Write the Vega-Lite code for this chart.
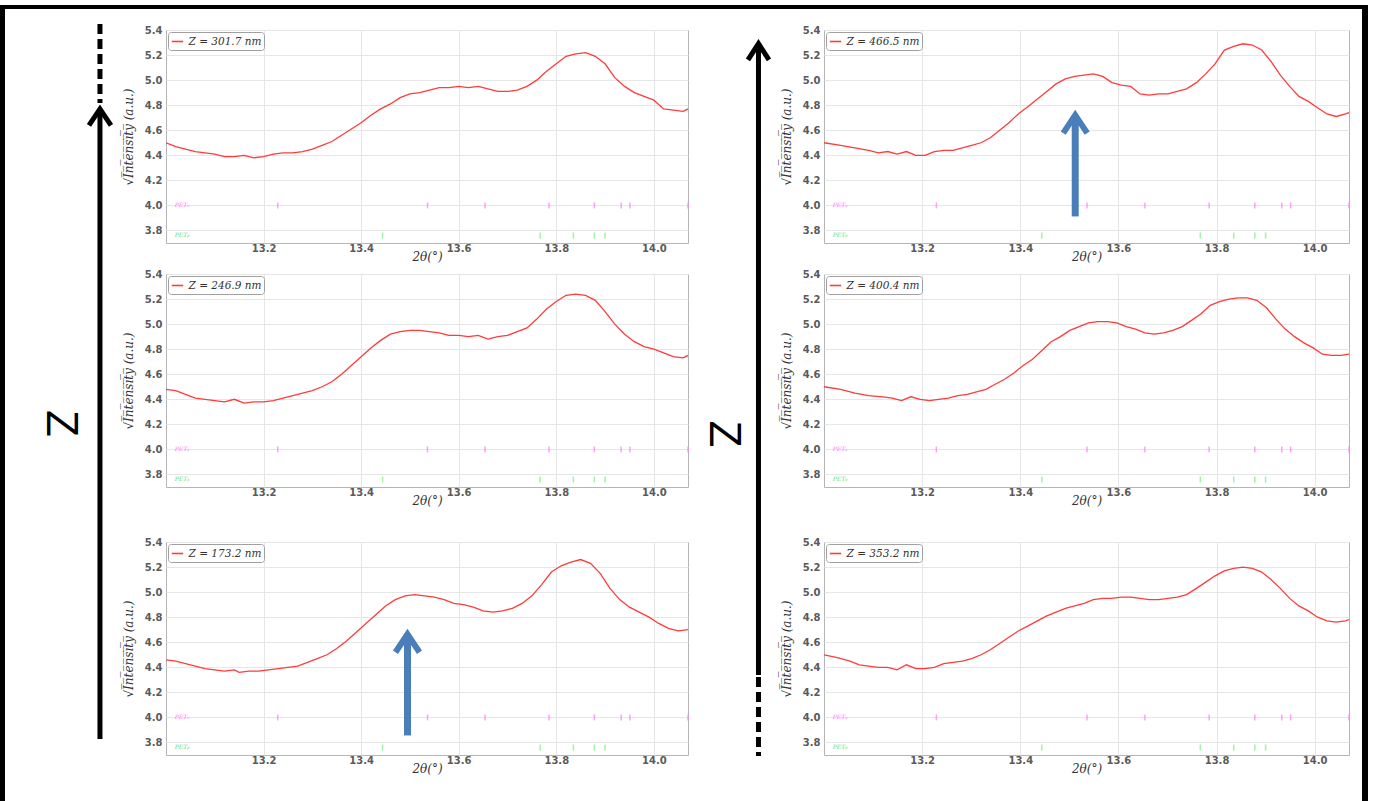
{
"$schema": "https://vega.github.io/schema/vega-lite/v6.json",
"padding": {"left": 0, "top": 5, "right": 0, "bottom": 0},
"spacing": 0,
"bounds": "full",
"resolve": {"scale": {"x": "independent", "y": "independent", "color": "independent"}, "axis": {"x": "independent", "y": "independent"}, "legend": {"color": "independent"}},
"datasets": {
"tl": [{"t":13.00,"v":4.50},{"t":13.02,"v":4.47},{"t":13.04,"v":4.45},{"t":13.06,"v":4.43},{"t":13.08,"v":4.42},{"t":13.10,"v":4.41},{"t":13.12,"v":4.39},{"t":13.14,"v":4.39},{"t":13.16,"v":4.40},{"t":13.18,"v":4.38},{"t":13.20,"v":4.39},{"t":13.22,"v":4.41},{"t":13.24,"v":4.42},{"t":13.26,"v":4.42},{"t":13.28,"v":4.43},{"t":13.30,"v":4.45},{"t":13.32,"v":4.48},{"t":13.34,"v":4.51},{"t":13.36,"v":4.56},{"t":13.38,"v":4.61},{"t":13.40,"v":4.66},{"t":13.42,"v":4.72},{"t":13.44,"v":4.77},{"t":13.46,"v":4.81},{"t":13.48,"v":4.86},{"t":13.50,"v":4.89},{"t":13.52,"v":4.90},{"t":13.54,"v":4.92},{"t":13.56,"v":4.94},{"t":13.58,"v":4.94},{"t":13.60,"v":4.95},{"t":13.62,"v":4.94},{"t":13.64,"v":4.95},{"t":13.66,"v":4.93},{"t":13.68,"v":4.91},{"t":13.70,"v":4.91},{"t":13.72,"v":4.92},{"t":13.74,"v":4.95},{"t":13.76,"v":5.00},{"t":13.78,"v":5.07},{"t":13.80,"v":5.13},{"t":13.82,"v":5.19},{"t":13.84,"v":5.21},{"t":13.86,"v":5.22},{"t":13.88,"v":5.19},{"t":13.90,"v":5.13},{"t":13.92,"v":5.02},{"t":13.94,"v":4.95},{"t":13.96,"v":4.90},{"t":13.98,"v":4.87},{"t":14.00,"v":4.84},{"t":14.02,"v":4.77},{"t":14.04,"v":4.76},{"t":14.06,"v":4.75},{"t":14.07,"v":4.77}],
"ml": [{"t":13.00,"v":4.48},{"t":13.02,"v":4.47},{"t":13.04,"v":4.44},{"t":13.06,"v":4.41},{"t":13.08,"v":4.40},{"t":13.10,"v":4.39},{"t":13.12,"v":4.38},{"t":13.14,"v":4.40},{"t":13.16,"v":4.37},{"t":13.18,"v":4.38},{"t":13.20,"v":4.38},{"t":13.22,"v":4.39},{"t":13.24,"v":4.41},{"t":13.26,"v":4.43},{"t":13.28,"v":4.45},{"t":13.30,"v":4.47},{"t":13.32,"v":4.50},{"t":13.34,"v":4.54},{"t":13.36,"v":4.60},{"t":13.38,"v":4.67},{"t":13.40,"v":4.74},{"t":13.42,"v":4.81},{"t":13.44,"v":4.87},{"t":13.46,"v":4.92},{"t":13.48,"v":4.94},{"t":13.50,"v":4.95},{"t":13.52,"v":4.95},{"t":13.54,"v":4.94},{"t":13.56,"v":4.93},{"t":13.58,"v":4.91},{"t":13.60,"v":4.91},{"t":13.62,"v":4.90},{"t":13.64,"v":4.91},{"t":13.66,"v":4.88},{"t":13.68,"v":4.90},{"t":13.70,"v":4.91},{"t":13.72,"v":4.94},{"t":13.74,"v":4.97},{"t":13.76,"v":5.04},{"t":13.78,"v":5.12},{"t":13.80,"v":5.18},{"t":13.82,"v":5.23},{"t":13.84,"v":5.24},{"t":13.86,"v":5.23},{"t":13.88,"v":5.19},{"t":13.90,"v":5.10},{"t":13.92,"v":5.00},{"t":13.94,"v":4.92},{"t":13.96,"v":4.86},{"t":13.98,"v":4.82},{"t":14.00,"v":4.80},{"t":14.02,"v":4.77},{"t":14.04,"v":4.74},{"t":14.06,"v":4.73},{"t":14.07,"v":4.75}],
"bl": [{"t":13.00,"v":4.46},{"t":13.02,"v":4.45},{"t":13.04,"v":4.43},{"t":13.06,"v":4.41},{"t":13.08,"v":4.39},{"t":13.10,"v":4.38},{"t":13.12,"v":4.37},{"t":13.14,"v":4.38},{"t":13.15,"v":4.36},{"t":13.17,"v":4.37},{"t":13.19,"v":4.37},{"t":13.21,"v":4.38},{"t":13.23,"v":4.39},{"t":13.25,"v":4.40},{"t":13.27,"v":4.41},{"t":13.29,"v":4.44},{"t":13.31,"v":4.47},{"t":13.33,"v":4.50},{"t":13.35,"v":4.55},{"t":13.37,"v":4.61},{"t":13.39,"v":4.68},{"t":13.41,"v":4.75},{"t":13.43,"v":4.82},{"t":13.45,"v":4.89},{"t":13.47,"v":4.94},{"t":13.49,"v":4.97},{"t":13.51,"v":4.98},{"t":13.53,"v":4.97},{"t":13.55,"v":4.96},{"t":13.57,"v":4.94},{"t":13.59,"v":4.91},{"t":13.61,"v":4.90},{"t":13.63,"v":4.88},{"t":13.65,"v":4.85},{"t":13.67,"v":4.84},{"t":13.69,"v":4.85},{"t":13.71,"v":4.87},{"t":13.73,"v":4.91},{"t":13.75,"v":4.97},{"t":13.77,"v":5.06},{"t":13.79,"v":5.16},{"t":13.81,"v":5.21},{"t":13.83,"v":5.24},{"t":13.85,"v":5.26},{"t":13.87,"v":5.23},{"t":13.89,"v":5.15},{"t":13.91,"v":5.03},{"t":13.93,"v":4.94},{"t":13.95,"v":4.88},{"t":13.97,"v":4.84},{"t":13.99,"v":4.80},{"t":14.01,"v":4.75},{"t":14.03,"v":4.71},{"t":14.05,"v":4.69},{"t":14.07,"v":4.70}],
"tr": [{"t":13.00,"v":4.50},{"t":13.034,"v":4.48},{"t":13.063,"v":4.46},{"t":13.091,"v":4.44},{"t":13.111,"v":4.42},{"t":13.130,"v":4.43},{"t":13.149,"v":4.41},{"t":13.168,"v":4.43},{"t":13.187,"v":4.40},{"t":13.206,"v":4.40},{"t":13.225,"v":4.43},{"t":13.244,"v":4.44},{"t":13.263,"v":4.44},{"t":13.282,"v":4.46},{"t":13.301,"v":4.48},{"t":13.320,"v":4.50},{"t":13.339,"v":4.54},{"t":13.358,"v":4.60},{"t":13.377,"v":4.66},{"t":13.396,"v":4.73},{"t":13.416,"v":4.79},{"t":13.435,"v":4.85},{"t":13.454,"v":4.91},{"t":13.473,"v":4.97},{"t":13.492,"v":5.01},{"t":13.511,"v":5.03},{"t":13.530,"v":5.04},{"t":13.549,"v":5.05},{"t":13.568,"v":5.03},{"t":13.587,"v":4.98},{"t":13.606,"v":4.96},{"t":13.625,"v":4.95},{"t":13.644,"v":4.89},{"t":13.663,"v":4.88},{"t":13.682,"v":4.89},{"t":13.701,"v":4.89},{"t":13.720,"v":4.91},{"t":13.739,"v":4.93},{"t":13.759,"v":4.98},{"t":13.778,"v":5.05},{"t":13.797,"v":5.13},{"t":13.816,"v":5.24},{"t":13.835,"v":5.27},{"t":13.854,"v":5.29},{"t":13.873,"v":5.28},{"t":13.892,"v":5.24},{"t":13.911,"v":5.15},{"t":13.930,"v":5.04},{"t":13.949,"v":4.95},{"t":13.968,"v":4.87},{"t":13.987,"v":4.83},{"t":14.006,"v":4.78},{"t":14.025,"v":4.73},{"t":14.044,"v":4.71},{"t":14.063,"v":4.73},{"t":14.07,"v":4.74}],
"mr": [{"t":13.00,"v":4.50},{"t":13.034,"v":4.48},{"t":13.063,"v":4.45},{"t":13.091,"v":4.43},{"t":13.120,"v":4.42},{"t":13.139,"v":4.41},{"t":13.158,"v":4.39},{"t":13.177,"v":4.42},{"t":13.196,"v":4.40},{"t":13.215,"v":4.39},{"t":13.234,"v":4.40},{"t":13.253,"v":4.41},{"t":13.273,"v":4.43},{"t":13.292,"v":4.44},{"t":13.311,"v":4.46},{"t":13.330,"v":4.48},{"t":13.349,"v":4.52},{"t":13.368,"v":4.56},{"t":13.387,"v":4.61},{"t":13.406,"v":4.67},{"t":13.425,"v":4.72},{"t":13.444,"v":4.79},{"t":13.463,"v":4.86},{"t":13.482,"v":4.90},{"t":13.501,"v":4.95},{"t":13.520,"v":4.98},{"t":13.539,"v":5.01},{"t":13.558,"v":5.02},{"t":13.578,"v":5.02},{"t":13.597,"v":5.01},{"t":13.616,"v":4.98},{"t":13.635,"v":4.96},{"t":13.654,"v":4.93},{"t":13.673,"v":4.92},{"t":13.692,"v":4.93},{"t":13.711,"v":4.95},{"t":13.730,"v":4.98},{"t":13.749,"v":5.03},{"t":13.768,"v":5.08},{"t":13.787,"v":5.15},{"t":13.806,"v":5.18},{"t":13.825,"v":5.20},{"t":13.844,"v":5.21},{"t":13.863,"v":5.21},{"t":13.882,"v":5.19},{"t":13.902,"v":5.13},{"t":13.921,"v":5.04},{"t":13.940,"v":4.96},{"t":13.959,"v":4.90},{"t":13.978,"v":4.85},{"t":13.997,"v":4.81},{"t":14.016,"v":4.76},{"t":14.035,"v":4.75},{"t":14.054,"v":4.75},{"t":14.07,"v":4.76}],
"br": [{"t":13.00,"v":4.50},{"t":13.025,"v":4.48},{"t":13.053,"v":4.45},{"t":13.072,"v":4.42},{"t":13.091,"v":4.41},{"t":13.111,"v":4.40},{"t":13.130,"v":4.40},{"t":13.149,"v":4.38},{"t":13.168,"v":4.42},{"t":13.187,"v":4.39},{"t":13.206,"v":4.39},{"t":13.225,"v":4.40},{"t":13.244,"v":4.43},{"t":13.263,"v":4.44},{"t":13.282,"v":4.45},{"t":13.301,"v":4.47},{"t":13.320,"v":4.50},{"t":13.339,"v":4.54},{"t":13.358,"v":4.59},{"t":13.377,"v":4.64},{"t":13.396,"v":4.69},{"t":13.416,"v":4.73},{"t":13.435,"v":4.77},{"t":13.454,"v":4.81},{"t":13.473,"v":4.84},{"t":13.492,"v":4.87},{"t":13.511,"v":4.89},{"t":13.530,"v":4.91},{"t":13.549,"v":4.94},{"t":13.568,"v":4.95},{"t":13.587,"v":4.95},{"t":13.606,"v":4.96},{"t":13.625,"v":4.96},{"t":13.644,"v":4.95},{"t":13.663,"v":4.94},{"t":13.682,"v":4.94},{"t":13.701,"v":4.95},{"t":13.720,"v":4.96},{"t":13.739,"v":4.98},{"t":13.759,"v":5.03},{"t":13.778,"v":5.08},{"t":13.797,"v":5.13},{"t":13.816,"v":5.17},{"t":13.835,"v":5.19},{"t":13.854,"v":5.20},{"t":13.873,"v":5.19},{"t":13.892,"v":5.16},{"t":13.911,"v":5.10},{"t":13.930,"v":5.03},{"t":13.949,"v":4.95},{"t":13.968,"v":4.89},{"t":13.987,"v":4.85},{"t":14.006,"v":4.80},{"t":14.025,"v":4.77},{"t":14.044,"v":4.76},{"t":14.063,"v":4.77},{"t":14.07,"v":4.78}],
"pa": [{"t":13.229},{"t":13.536},{"t":13.654},{"t":13.785},{"t":13.878},{"t":13.933},{"t":13.951},{"t":14.07}],
"pb": [{"t":13.444},{"t":13.767},{"t":13.835},{"t":13.878},{"t":13.900}]
},
"hconcat": [
 {"width": 5, "height": 796, "data": {"values": [{}]}, "mark": {"type": "point", "size": 0, "opacity": 0}, "view": {"fill": "black", "stroke": null}},
 {"vconcat": [
   {"width": 1357, "height": 4, "data": {"values": [{}]}, "mark": {"type": "point", "size": 0, "opacity": 0}, "view": {"fill": "black", "stroke": null}},
   {"hconcat": [
     {"width": 114, "height": 736, "view": {"stroke": null}, "data": {"values": [{}]},
      "layer": [
        {"mark": {"type": "rule", "strokeWidth": 5, "color": "black", "strokeCap": "butt"}, "encoding": {"x": {"datum": 0.833, "type": "quantitative", "scale": {"domain": [0, 1]}, "axis": null}, "y": {"datum": 0.0367, "type": "quantitative", "scale": {"domain": [0, 1]}, "axis": null}, "y2": {"datum": 0.8927}}},
        {"mark": {"type": "rule", "strokeWidth": 5, "color": "black", "strokeCap": "butt", "strokeDash": [10, 5]}, "encoding": {"x": {"datum": 0.833}, "y": {"datum": 1.0082}, "y2": {"datum": 0.9008}}},
        {"mark": {"type": "point", "shape": "M-1,1.5L0,0L1,1.5", "size": 484, "filled": false, "stroke": "black", "strokeWidth": 5, "strokeJoin": "miter", "strokeCap": "butt", "opacity": 1}, "encoding": {"x": {"datum": 0.833}, "y": {"datum": 0.8927}}},
        {"mark": {"type": "text", "text": "Z", "font": "Liberation Sans", "fontSize": 44, "angle": 90, "align": "center", "baseline": "middle", "color": "black"}, "encoding": {"x": {"datum": 0.482}, "y": {"datum": 0.4654}}}
      ]},
     {"vconcat": [
       {"vconcat": [
         {"width": 522, "height": 213, "layer": [
           {"data": {"name": "tl"}, "mark": {"type": "line", "strokeWidth": 1.3, "clip": true}, "encoding": {
             "x": {"field": "t", "type": "quantitative", "scale": {"domain": [13.0, 14.07], "nice": false, "zero": false}, "axis": {"values": [13.2, 13.4, 13.6, 13.8, 14.0], "format": ".1f", "title": "2θ(°)"}},
             "y": {"field": "v", "type": "quantitative", "scale": {"domain": [3.7, 5.4], "nice": false, "zero": false}, "axis": {"values": [3.8, 4.0, 4.2, 4.4, 4.6, 4.8, 5.0, 5.2, 5.4], "tickCount": 12, "format": ".1f", "title": "√I̅n̅t̅e̅n̅s̅i̅t̅y̅ (a.u.)"}},
             "color": {"datum": "Z = 301.7 nm", "type": "nominal", "scale": {"range": ["#ff3b3b"]}, "legend": {"title": null}}}},
           {"data": {"name": "pa"}, "mark": {"type": "tick", "orient": "vertical", "size": 6, "thickness": 1.5, "color": "#ff77ff"}, "encoding": {"x": {"field": "t", "type": "quantitative"}, "y": {"datum": 4.0}}},
           {"data": {"name": "pb"}, "mark": {"type": "tick", "orient": "vertical", "size": 6, "thickness": 1.5, "color": "#77ee77"}, "encoding": {"x": {"field": "t", "type": "quantitative"}, "y": {"datum": 3.76}}},
           {"data": {"values": [{}]}, "mark": {"type": "text", "text": "PETₐ", "font": "DejaVu Serif", "fontStyle": "italic", "fontSize": 6, "color": "#ff77ff", "align": "left", "baseline": "middle"}, "encoding": {"x": {"datum": 13.018}, "y": {"datum": 4.0}}},
           {"data": {"values": [{}]}, "mark": {"type": "text", "text": "PETᵦ", "font": "DejaVu Serif", "fontStyle": "italic", "fontSize": 6, "color": "#66dd66", "align": "left", "baseline": "middle"}, "encoding": {"x": {"datum": 13.018}, "y": {"datum": 3.76}}}
         ]},
         {"width": 522, "height": 213, "layer": [
           {"data": {"name": "ml"}, "mark": {"type": "line", "strokeWidth": 1.3, "clip": true}, "encoding": {
             "x": {"field": "t", "type": "quantitative", "scale": {"domain": [13.0, 14.07], "nice": false, "zero": false}, "axis": {"values": [13.2, 13.4, 13.6, 13.8, 14.0], "format": ".1f", "title": "2θ(°)"}},
             "y": {"field": "v", "type": "quantitative", "scale": {"domain": [3.7, 5.4], "nice": false, "zero": false}, "axis": {"values": [3.8, 4.0, 4.2, 4.4, 4.6, 4.8, 5.0, 5.2, 5.4], "tickCount": 12, "format": ".1f", "title": "√I̅n̅t̅e̅n̅s̅i̅t̅y̅ (a.u.)"}},
             "color": {"datum": "Z = 246.9 nm", "type": "nominal", "scale": {"range": ["#ff3b3b"]}, "legend": {"title": null}}}},
           {"data": {"name": "pa"}, "mark": {"type": "tick", "orient": "vertical", "size": 6, "thickness": 1.5, "color": "#ff77ff"}, "encoding": {"x": {"field": "t", "type": "quantitative"}, "y": {"datum": 4.0}}},
           {"data": {"name": "pb"}, "mark": {"type": "tick", "orient": "vertical", "size": 6, "thickness": 1.5, "color": "#77ee77"}, "encoding": {"x": {"field": "t", "type": "quantitative"}, "y": {"datum": 3.76}}},
           {"data": {"values": [{}]}, "mark": {"type": "text", "text": "PETₐ", "font": "DejaVu Serif", "fontStyle": "italic", "fontSize": 6, "color": "#ff77ff", "align": "left", "baseline": "middle"}, "encoding": {"x": {"datum": 13.018}, "y": {"datum": 4.0}}},
           {"data": {"values": [{}]}, "mark": {"type": "text", "text": "PETᵦ", "font": "DejaVu Serif", "fontStyle": "italic", "fontSize": 6, "color": "#66dd66", "align": "left", "baseline": "middle"}, "encoding": {"x": {"datum": 13.018}, "y": {"datum": 3.76}}}
         ]}
       ], "spacing": 5, "resolve": {"scale": {"x": "independent", "y": "independent", "color": "independent"}, "axis": {"x": "independent", "y": "independent"}, "legend": {"color": "independent"}}},
       {"width": 522, "height": 213, "layer": [
         {"data": {"name": "bl"}, "mark": {"type": "line", "strokeWidth": 1.3, "clip": true}, "encoding": {
           "x": {"field": "t", "type": "quantitative", "scale": {"domain": [13.0, 14.07], "nice": false, "zero": false}, "axis": {"values": [13.2, 13.4, 13.6, 13.8, 14.0], "format": ".1f", "title": "2θ(°)"}},
           "y": {"field": "v", "type": "quantitative", "scale": {"domain": [3.7, 5.4], "nice": false, "zero": false}, "axis": {"values": [3.8, 4.0, 4.2, 4.4, 4.6, 4.8, 5.0, 5.2, 5.4], "tickCount": 12, "format": ".1f", "title": "√I̅n̅t̅e̅n̅s̅i̅t̅y̅ (a.u.)"}},
           "color": {"datum": "Z = 173.2 nm", "type": "nominal", "scale": {"range": ["#ff3b3b"]}, "legend": {"title": null}}}},
         {"data": {"name": "pa"}, "mark": {"type": "tick", "orient": "vertical", "size": 6, "thickness": 1.5, "color": "#ff77ff"}, "encoding": {"x": {"field": "t", "type": "quantitative"}, "y": {"datum": 4.0}}},
         {"data": {"name": "pb"}, "mark": {"type": "tick", "orient": "vertical", "size": 6, "thickness": 1.5, "color": "#77ee77"}, "encoding": {"x": {"field": "t", "type": "quantitative"}, "y": {"datum": 3.76}}},
         {"data": {"values": [{}]}, "mark": {"type": "text", "text": "PETₐ", "font": "DejaVu Serif", "fontStyle": "italic", "fontSize": 6, "color": "#ff77ff", "align": "left", "baseline": "middle"}, "encoding": {"x": {"datum": 13.018}, "y": {"datum": 4.0}}},
         {"data": {"values": [{}]}, "mark": {"type": "text", "text": "PETᵦ", "font": "DejaVu Serif", "fontStyle": "italic", "fontSize": 6, "color": "#66dd66", "align": "left", "baseline": "middle"}, "encoding": {"x": {"datum": 13.018}, "y": {"datum": 3.76}}},
         {"data": {"values": [{}]}, "mark": {"type": "rule", "strokeWidth": 7, "color": "#4a7ebb", "strokeCap": "butt"}, "encoding": {"x": {"datum": 13.495}, "y": {"datum": 3.856}, "y2": {"datum": 4.664}}},
         {"data": {"values": [{}]}, "mark": {"type": "point", "shape": "M-1,1.5L0,0L1,1.5", "size": 576, "filled": false, "stroke": "#4a7ebb", "strokeWidth": 6, "strokeJoin": "miter", "strokeCap": "butt", "opacity": 1}, "encoding": {"x": {"datum": 13.495}, "y": {"datum": 4.664}}}
       ]}
     ], "spacing": 29, "resolve": {"scale": {"x": "independent", "y": "independent", "color": "independent"}, "axis": {"x": "independent", "y": "independent"}, "legend": {"color": "independent"}}},
     {"width": 80, "height": 736, "view": {"stroke": null}, "data": {"values": [{}]},
      "layer": [
        {"mark": {"type": "rule", "strokeWidth": 5, "color": "black", "strokeCap": "butt"}, "encoding": {"x": {"datum": 0.856, "type": "quantitative", "scale": {"domain": [0, 1]}, "axis": null}, "y": {"datum": 0.1236, "type": "quantitative", "scale": {"domain": [0, 1]}, "axis": null}, "y2": {"datum": 0.9815}}},
        {"mark": {"type": "rule", "strokeWidth": 5, "color": "black", "strokeCap": "butt", "strokeDash": [10, 5]}, "encoding": {"x": {"datum": 0.856}, "y": {"datum": 0.1209}, "y2": {"datum": 0.0136}}},
        {"mark": {"type": "point", "shape": "M-1,1.55L0,0L1,1.55", "size": 441, "filled": false, "stroke": "black", "strokeWidth": 5, "strokeJoin": "miter", "strokeCap": "butt", "opacity": 1}, "encoding": {"x": {"datum": 0.856}, "y": {"datum": 0.9815}}},
        {"mark": {"type": "text", "text": "Z", "font": "Liberation Sans", "fontSize": 44, "angle": 90, "align": "center", "baseline": "middle", "color": "black"}, "encoding": {"x": {"datum": 0.41}, "y": {"datum": 0.4511}}}
      ]},
     {"vconcat": [
       {"vconcat": [
         {"width": 525, "height": 213, "layer": [
           {"data": {"name": "tr"}, "mark": {"type": "line", "strokeWidth": 1.3, "clip": true}, "encoding": {
             "x": {"field": "t", "type": "quantitative", "scale": {"domain": [13.0, 14.07], "nice": false, "zero": false}, "axis": {"values": [13.2, 13.4, 13.6, 13.8, 14.0], "format": ".1f", "title": "2θ(°)"}},
             "y": {"field": "v", "type": "quantitative", "scale": {"domain": [3.7, 5.4], "nice": false, "zero": false}, "axis": {"values": [3.8, 4.0, 4.2, 4.4, 4.6, 4.8, 5.0, 5.2, 5.4], "tickCount": 12, "format": ".1f", "title": "√I̅n̅t̅e̅n̅s̅i̅t̅y̅ (a.u.)"}},
             "color": {"datum": "Z = 466.5 nm", "type": "nominal", "scale": {"range": ["#ff3b3b"]}, "legend": {"title": null}}}},
           {"data": {"name": "pa"}, "mark": {"type": "tick", "orient": "vertical", "size": 6, "thickness": 1.5, "color": "#ff77ff"}, "encoding": {"x": {"field": "t", "type": "quantitative"}, "y": {"datum": 4.0}}},
           {"data": {"name": "pb"}, "mark": {"type": "tick", "orient": "vertical", "size": 6, "thickness": 1.5, "color": "#77ee77"}, "encoding": {"x": {"field": "t", "type": "quantitative"}, "y": {"datum": 3.76}}},
           {"data": {"values": [{}]}, "mark": {"type": "text", "text": "PETₐ", "font": "DejaVu Serif", "fontStyle": "italic", "fontSize": 6, "color": "#ff77ff", "align": "left", "baseline": "middle"}, "encoding": {"x": {"datum": 13.018}, "y": {"datum": 4.0}}},
           {"data": {"values": [{}]}, "mark": {"type": "text", "text": "PETᵦ", "font": "DejaVu Serif", "fontStyle": "italic", "fontSize": 6, "color": "#66dd66", "align": "left", "baseline": "middle"}, "encoding": {"x": {"datum": 13.018}, "y": {"datum": 3.76}}},
           {"data": {"values": [{}]}, "mark": {"type": "rule", "strokeWidth": 7, "color": "#4a7ebb", "strokeCap": "butt"}, "encoding": {"x": {"datum": 13.512}, "y": {"datum": 3.912}, "y2": {"datum": 4.72}}},
           {"data": {"values": [{}]}, "mark": {"type": "point", "shape": "M-1,1.5L0,0L1,1.5", "size": 576, "filled": false, "stroke": "#4a7ebb", "strokeWidth": 6, "strokeJoin": "miter", "strokeCap": "butt", "opacity": 1}, "encoding": {"x": {"datum": 13.512}, "y": {"datum": 4.72}}}
         ]},
         {"width": 525, "height": 213, "layer": [
           {"data": {"name": "mr"}, "mark": {"type": "line", "strokeWidth": 1.3, "clip": true}, "encoding": {
             "x": {"field": "t", "type": "quantitative", "scale": {"domain": [13.0, 14.07], "nice": false, "zero": false}, "axis": {"values": [13.2, 13.4, 13.6, 13.8, 14.0], "format": ".1f", "title": "2θ(°)"}},
             "y": {"field": "v", "type": "quantitative", "scale": {"domain": [3.7, 5.4], "nice": false, "zero": false}, "axis": {"values": [3.8, 4.0, 4.2, 4.4, 4.6, 4.8, 5.0, 5.2, 5.4], "tickCount": 12, "format": ".1f", "title": "√I̅n̅t̅e̅n̅s̅i̅t̅y̅ (a.u.)"}},
             "color": {"datum": "Z = 400.4 nm", "type": "nominal", "scale": {"range": ["#ff3b3b"]}, "legend": {"title": null}}}},
           {"data": {"name": "pa"}, "mark": {"type": "tick", "orient": "vertical", "size": 6, "thickness": 1.5, "color": "#ff77ff"}, "encoding": {"x": {"field": "t", "type": "quantitative"}, "y": {"datum": 4.0}}},
           {"data": {"name": "pb"}, "mark": {"type": "tick", "orient": "vertical", "size": 6, "thickness": 1.5, "color": "#77ee77"}, "encoding": {"x": {"field": "t", "type": "quantitative"}, "y": {"datum": 3.76}}},
           {"data": {"values": [{}]}, "mark": {"type": "text", "text": "PETₐ", "font": "DejaVu Serif", "fontStyle": "italic", "fontSize": 6, "color": "#ff77ff", "align": "left", "baseline": "middle"}, "encoding": {"x": {"datum": 13.018}, "y": {"datum": 4.0}}},
           {"data": {"values": [{}]}, "mark": {"type": "text", "text": "PETᵦ", "font": "DejaVu Serif", "fontStyle": "italic", "fontSize": 6, "color": "#66dd66", "align": "left", "baseline": "middle"}, "encoding": {"x": {"datum": 13.018}, "y": {"datum": 3.76}}}
         ]}
       ], "spacing": 5, "resolve": {"scale": {"x": "independent", "y": "independent", "color": "independent"}, "axis": {"x": "independent", "y": "independent"}, "legend": {"color": "independent"}}},
       {"width": 525, "height": 213, "layer": [
         {"data": {"name": "br"}, "mark": {"type": "line", "strokeWidth": 1.3, "clip": true}, "encoding": {
           "x": {"field": "t", "type": "quantitative", "scale": {"domain": [13.0, 14.07], "nice": false, "zero": false}, "axis": {"values": [13.2, 13.4, 13.6, 13.8, 14.0], "format": ".1f", "title": "2θ(°)"}},
           "y": {"field": "v", "type": "quantitative", "scale": {"domain": [3.7, 5.4], "nice": false, "zero": false}, "axis": {"values": [3.8, 4.0, 4.2, 4.4, 4.6, 4.8, 5.0, 5.2, 5.4], "tickCount": 12, "format": ".1f", "title": "√I̅n̅t̅e̅n̅s̅i̅t̅y̅ (a.u.)"}},
           "color": {"datum": "Z = 353.2 nm", "type": "nominal", "scale": {"range": ["#ff3b3b"]}, "legend": {"title": null}}}},
         {"data": {"name": "pa"}, "mark": {"type": "tick", "orient": "vertical", "size": 6, "thickness": 1.5, "color": "#ff77ff"}, "encoding": {"x": {"field": "t", "type": "quantitative"}, "y": {"datum": 4.0}}},
         {"data": {"name": "pb"}, "mark": {"type": "tick", "orient": "vertical", "size": 6, "thickness": 1.5, "color": "#77ee77"}, "encoding": {"x": {"field": "t", "type": "quantitative"}, "y": {"datum": 3.76}}},
         {"data": {"values": [{}]}, "mark": {"type": "text", "text": "PETₐ", "font": "DejaVu Serif", "fontStyle": "italic", "fontSize": 6, "color": "#ff77ff", "align": "left", "baseline": "middle"}, "encoding": {"x": {"datum": 13.018}, "y": {"datum": 4.0}}},
         {"data": {"values": [{}]}, "mark": {"type": "text", "text": "PETᵦ", "font": "DejaVu Serif", "fontStyle": "italic", "fontSize": 6, "color": "#66dd66", "align": "left", "baseline": "middle"}, "encoding": {"x": {"datum": 13.018}, "y": {"datum": 3.76}}}
       ]}
     ], "spacing": 29, "resolve": {"scale": {"x": "independent", "y": "independent", "color": "independent"}, "axis": {"x": "independent", "y": "independent"}, "legend": {"color": "independent"}}}
   ], "spacing": 0, "resolve": {"scale": {"x": "independent", "y": "independent", "color": "independent"}, "axis": {"x": "independent", "y": "independent"}, "legend": {"color": "independent"}}}
 ], "spacing": 12, "resolve": {"scale": {"x": "independent", "y": "independent", "color": "independent"}, "axis": {"x": "independent", "y": "independent"}, "legend": {"color": "independent"}}},
 {"width": 6, "height": 796, "data": {"values": [{}]}, "mark": {"type": "point", "size": 0, "opacity": 0}, "view": {"fill": "black", "stroke": null}}
],
"config": {
 "background": "white",
 "view": {"stroke": "#b5b5b5", "strokeWidth": 1},
 "axis": {"grid": true, "gridColor": "#e6e6e6", "gridWidth": 1, "domain": false, "ticks": false, "tickSize": 0, "labelOverlap": false, "labelFont": "DejaVu Sans", "labelFontSize": 10, "labelColor": "#5a5a5a", "labelFontWeight": "bold", "titleFont": "DejaVu Serif", "titleFontStyle": "italic", "titleFontWeight": "normal", "titleFontSize": 12, "titleColor": "#333333"},
 "axisX": {"labelPadding": 0, "titlePadding": -2},
 "axisY": {"labelPadding": 4, "titlePadding": 9},
 "legend": {"orient": "top-left", "offset": 2, "padding": 2.5, "strokeColor": "#a0a0a0", "fillColor": "#ffffff", "cornerRadius": 3, "symbolType": "stroke", "symbolSize": 130, "symbolStrokeWidth": 1.6, "labelFont": "DejaVu Serif", "labelFontStyle": "italic", "labelFontSize": 10.5, "labelColor": "#333333", "labelOffset": 4}
}
}
